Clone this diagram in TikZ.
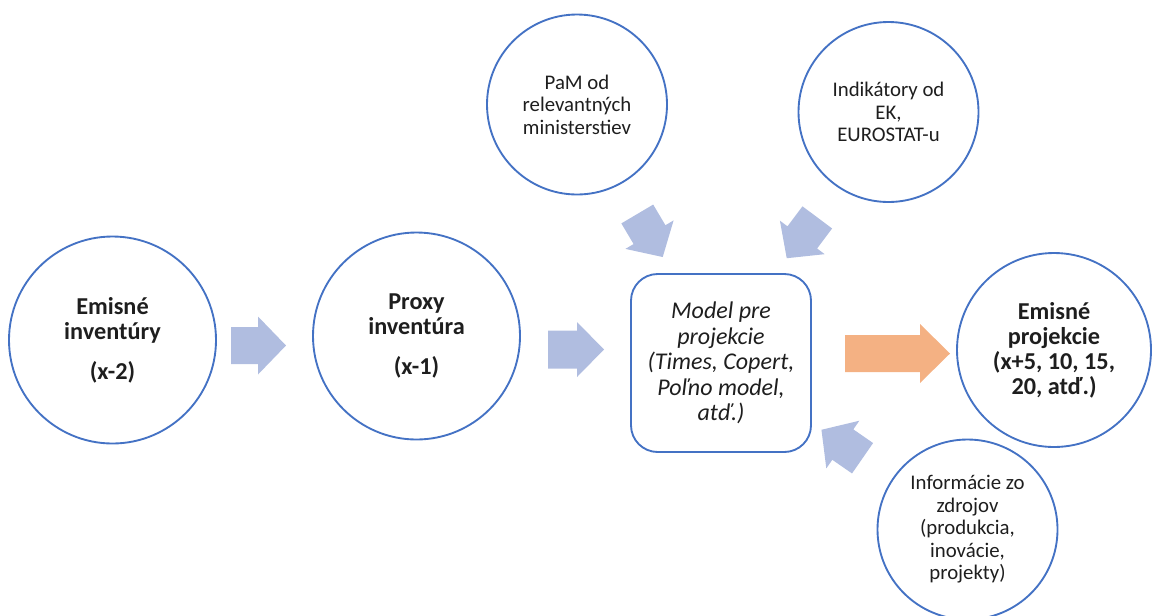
\documentclass[tikz,border=0pt]{standalone}
\usepackage{fontspec}
\setmainfont{Carlito}
\definecolor{cblue}{HTML}{4472C4}
\definecolor{afill}{HTML}{B0BDE0}
\definecolor{ofill}{HTML}{F4B183}
\definecolor{txt}{HTML}{1E1E1E}
% \blockarr{fill}{cx}{cy}{angle}{length}{head width}{body width}{head length}
\newcommand\blockarr[8]{%
  \fill[#1,shift={(#2,#3)},rotate=#4]
    (-#5/2,-#7/2) -- ({#5/2-#8},-#7/2) -- ({#5/2-#8},-#6/2) -- (#5/2,0)
    -- ({#5/2-#8},#6/2) -- ({#5/2-#8},#7/2) -- (-#5/2,#7/2) -- cycle;}
\begin{document}
\begin{tikzpicture}[x=0.75pt,y=-0.75pt,
  bigc/.style={circle,draw=cblue,line width=1.4pt,text=txt,align=center,inner sep=0pt,
    font=\fontsize{18.2}{18.75}\selectfont\bfseries},
  smallc/.style={circle,draw=cblue,line width=1.4pt,text=txt,align=center,inner sep=0pt,
    minimum size=135pt,font=\fontsize{15.6}{16.9}\selectfont},
  modelbox/.style={rectangle,rounded corners=20pt,draw=cblue,line width=1.4pt,text=txt,
    align=center,inner sep=0pt,minimum width=135pt,minimum height=133.5pt,
    font=\fontsize{18}{19.1}\selectfont\itshape}
]
\useasboundingbox (0,0) rectangle (1152,615);

% main circles
\node[bigc,minimum size=155.25pt] (inv) at (112.5,340) {Emisné\\inventúry\\[11pt](x-2)};
\node[bigc,minimum size=155.25pt] (proxy) at (416.5,336) {Proxy\\inventúra\\[11pt](x-1)};
\node[modelbox] (model) at (721,363) {Model pre\\projekcie\\(Times, Copert,\\Poľno model,\\atď.)};
\node[bigc,minimum size=145.5pt] (proj) at (1054,350) {Emisné\\projekcie\\(x+5, 10, 15,\\20, atď.)};

% input circles
\node[smallc] (pam) at (577,104.5) {PaM od\\relevantných\\ministerstiev};
\node[smallc] (ind) at (888.5,112) {Indikátory od\\EK,\\EUROSTAT-u};
\node[smallc] (info) at (967.5,529.5) {Informácie zo\\zdrojov\\(produkcia,\\inovácie,\\projekty)};

% block arrows
\blockarr{afill}{258.5}{345.5}{0}{55}{58}{37}{28}
\blockarr{afill}{576}{349.5}{0}{56}{55}{38}{27}
\blockarr{ofill}{897.5}{353.5}{0}{105}{59}{37}{30}
\blockarr{afill}{650}{235.5}{-59.4}{50}{56}{37}{26}
\blockarr{afill}{802}{237.8}{-126.8}{51}{56}{37}{26}
\blockarr{afill}{842}{444}{145.3}{50}{58}{37}{26}
\end{tikzpicture}
\end{document}
